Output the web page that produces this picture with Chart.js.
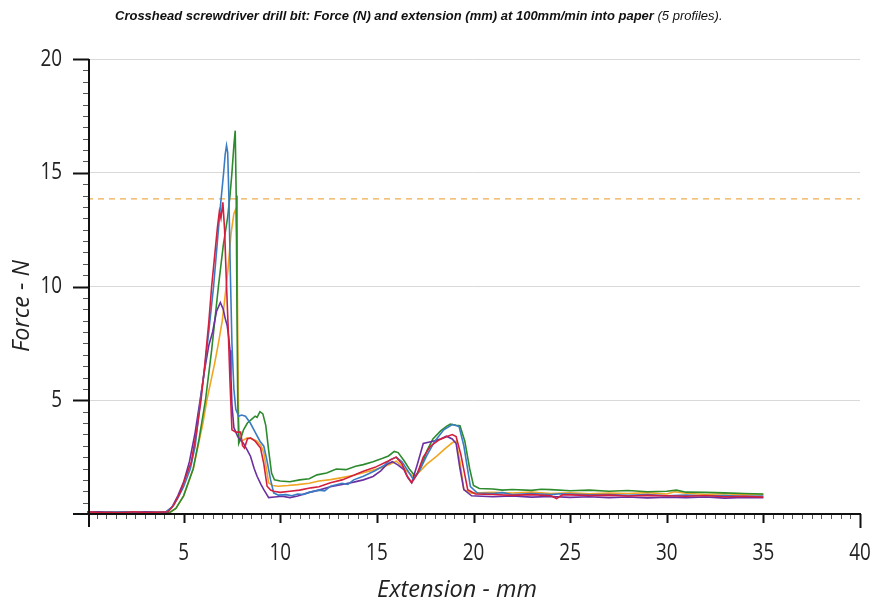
<!DOCTYPE html>
<html>
<head>
<meta charset="utf-8">
<script src="https://cdn.jsdelivr.net/npm/chart.js@4.4.1/dist/chart.umd.min.js"></script>
<style>
  html, body { margin: 0; padding: 0; background: #ffffff; }
  #wrap { width: 873px; height: 604px; }
</style>
</head>
<body>
<div id="wrap"><canvas id="chart" width="873" height="604"></canvas></div>
<script>
// Force (N) against extension (mm), one [extension, force] list per test profile
const profile1 = [[0,0.08],[0.6,0.05],[1.2,0.1],[1.8,0.06],[2.4,0.09],[3.0,0.05],[3.6,0.07],[4.1,0.1],[4.4,0.3],[4.7,0.7],[5.0,1.2],[5.35,2.0],[5.6,3.0],[5.87,5.0],[6.1,6.5],[6.3,8.0],[6.55,10.0],[6.75,12.0],[6.9,13.5],[7.07,15.0],[7.15,15.8],[7.22,16.2],[7.28,15.9],[7.34,14.0],[7.42,10.5],[7.5,7.5],[7.6,5.5],[7.7,4.6],[7.85,4.3],[8.0,4.35],[8.2,4.3],[8.45,4.0],[8.72,3.57],[8.95,3.2],[9.15,2.98],[9.3,2.4],[9.5,1.5],[9.66,0.93],[9.9,0.83],[10.3,0.85],[10.6,0.8],[10.9,0.88],[11.2,0.86],[11.5,0.95],[12.0,1.05],[12.3,1.02],[12.6,1.22],[13.2,1.35],[13.5,1.3],[13.8,1.5],[14.3,1.66],[14.9,1.9],[15.4,2.15],[15.7,2.39],[16.0,2.5],[16.3,2.3],[16.6,1.9],[16.9,1.5],[17.2,1.9],[17.6,2.6],[18.0,3.2],[18.46,3.7],[18.9,3.93],[19.25,3.85],[19.5,3.0],[19.84,1.2],[20.2,0.92],[21,0.9],[21.5,0.94],[22,0.86],[23,0.9],[24,0.85],[24.5,0.89],[25,0.88],[26,0.84],[27,0.86],[28,0.82],[29,0.85],[30,0.8],[31,0.83],[32,0.79],[33,0.81],[34,0.78],[35,0.79]];
const profile2 = [[0,0.06],[0.7,0.1],[1.3,0.05],[2.0,0.09],[2.6,0.06],[3.2,0.1],[3.8,0.05],[4.3,0.08],[4.6,0.25],[5.0,0.8],[5.5,2.0],[5.8,3.3],[6.13,5.0],[6.45,7.2],[6.8,10.0],[7.05,11.8],[7.27,13.0],[7.4,14.0],[7.5,15.0],[7.6,16.2],[7.67,16.85],[7.72,14.0],[7.76,9.0],[7.8,5.0],[7.85,3.1],[7.95,3.3],[8.1,3.7],[8.3,4.0],[8.5,4.15],[8.7,4.3],[8.8,4.25],[8.95,4.5],[9.1,4.4],[9.25,3.9],[9.4,2.8],[9.55,1.8],[9.7,1.5],[10.0,1.45],[10.5,1.42],[11.0,1.5],[11.5,1.55],[11.9,1.72],[12.4,1.8],[12.9,1.98],[13.4,1.95],[13.9,2.1],[14.3,2.17],[14.8,2.3],[15.3,2.45],[15.6,2.55],[15.9,2.75],[16.1,2.7],[16.4,2.35],[16.7,1.95],[17.0,1.65],[17.3,2.1],[17.6,2.8],[17.9,3.3],[18.3,3.65],[18.6,3.85],[18.8,3.95],[19.1,3.9],[19.3,3.88],[19.55,3.2],[19.8,2.0],[20.0,1.25],[20.3,1.12],[21,1.1],[21.5,1.05],[22,1.08],[23,1.04],[23.5,1.09],[24,1.07],[25,1.02],[26,1.05],[27,1.0],[28,1.03],[29,0.98],[30,1.0],[30.5,1.05],[31,0.96],[32,0.95],[33,0.93],[34,0.9],[35,0.88]];
const profile3 = [[0,0.1],[0.6,0.06],[1.2,0.08],[1.8,0.05],[2.4,0.1],[3.0,0.06],[3.6,0.08],[4.2,0.1],[4.5,0.4],[4.8,0.9],[5.1,1.6],[5.4,2.3],[5.7,3.8],[5.9,5.0],[6.1,6.6],[6.3,8.4],[6.45,10.0],[6.6,11.3],[6.75,12.6],[6.85,13.3],[6.93,13.0],[7.03,13.7],[7.12,12.5],[7.2,10.5],[7.3,8.3],[7.4,5.8],[7.5,3.7],[7.7,3.6],[7.95,3.6],[8.05,3.0],[8.15,2.9],[8.3,3.3],[8.46,3.35],[8.7,3.2],[8.98,2.9],[9.15,2.2],[9.32,1.22],[9.5,1.05],[9.66,1.0],[10.0,0.95],[10.5,1.0],[11.0,1.05],[11.6,1.15],[12.0,1.2],[12.6,1.37],[13.2,1.5],[13.8,1.7],[14.3,1.88],[14.9,2.05],[15.4,2.25],[16.0,2.5],[16.3,2.2],[16.55,1.7],[16.8,1.37],[17.1,1.8],[17.4,2.5],[17.77,2.98],[18.2,3.25],[18.6,3.4],[18.9,3.49],[19.1,3.4],[19.35,2.6],[19.7,1.07],[20.1,0.88],[21,0.86],[22,0.82],[23,0.85],[24,0.8],[24.3,0.68],[24.6,0.84],[25,0.84],[26,0.81],[27,0.83],[28,0.79],[29,0.82],[30,0.8],[31,0.78],[32,0.81],[33,0.76],[34,0.78],[35,0.74]];
const profile4 = [[0,0.05],[0.6,0.09],[1.2,0.05],[1.8,0.08],[2.4,0.05],[3.0,0.08],[3.6,0.05],[4.3,0.07],[4.6,0.25],[5.0,0.8],[5.5,2.0],[6.0,4.0],[6.2,5.0],[6.4,5.8],[6.6,6.6],[6.8,7.5],[7.0,8.5],[7.15,9.6],[7.3,10.8],[7.45,12.3],[7.6,13.2],[7.7,13.4],[7.76,12.0],[7.8,8.0],[7.84,4.5],[7.88,3.4],[8.0,3.2],[8.29,3.35],[8.55,3.3],[8.8,3.2],[9.0,3.0],[9.15,2.69],[9.3,1.9],[9.4,1.37],[9.6,1.25],[9.9,1.22],[10.4,1.25],[10.9,1.29],[11.5,1.35],[12.0,1.45],[12.6,1.51],[13.2,1.6],[13.8,1.7],[14.3,1.81],[14.9,1.95],[15.3,2.05],[15.7,2.2],[16.0,2.32],[16.3,2.1],[16.6,1.85],[16.9,1.66],[17.2,1.85],[17.6,2.2],[18.1,2.54],[18.5,2.85],[18.9,3.13],[19.1,3.2],[19.3,2.3],[19.5,1.07],[19.9,0.92],[21,0.95],[22,0.92],[23,0.96],[24,0.9],[25,0.93],[26,0.89],[27,0.92],[28,0.9],[29,0.94],[30,0.88],[30.4,0.98],[31,0.91],[32,0.86],[33,0.89],[34,0.85],[35,0.86]];
const profile5 = [[0,0.07],[0.6,0.1],[1.2,0.06],[1.8,0.09],[2.4,0.06],[3.0,0.1],[3.6,0.07],[4.1,0.09],[4.4,0.3],[4.7,0.8],[5.0,1.4],[5.3,2.3],[5.6,3.6],[5.85,5.0],[6.1,6.4],[6.3,7.4],[6.5,8.0],[6.7,8.9],[6.9,9.3],[7.05,9.0],[7.15,8.6],[7.25,8.3],[7.33,7.8],[7.4,7.2],[7.45,6.0],[7.5,4.8],[7.6,3.8],[7.8,3.4],[8.1,3.1],[8.3,2.8],[8.46,2.54],[8.65,2.0],[8.8,1.66],[9.0,1.3],[9.15,1.07],[9.4,0.72],[9.7,0.75],[10.1,0.78],[10.5,0.72],[10.9,0.79],[11.5,0.95],[12.0,1.05],[12.6,1.2],[13.2,1.3],[13.8,1.4],[14.3,1.5],[14.8,1.65],[15.2,1.9],[15.5,2.17],[15.8,2.3],[16.1,2.15],[16.4,1.95],[16.6,1.6],[16.8,1.37],[17.1,2.2],[17.4,3.1],[17.9,3.2],[18.3,3.3],[18.6,3.42],[18.9,3.3],[19.1,3.1],[19.3,2.0],[19.5,1.07],[19.9,0.8],[21,0.76],[22,0.79],[23,0.74],[24,0.77],[25,0.73],[26,0.76],[27,0.72],[28,0.75],[29,0.71],[30,0.74],[31,0.72],[32,0.75],[33,0.7],[34,0.73],[35,0.72]];

// Reference force level drawn as a dashed line
const thresholdForce = 13.85;

// Axis ticks
const xTickValues = [5, 10, 15, 20, 25, 30, 35, 40];
const yTickValues = [5, 10, 15, 20];

// Texts
const titleMain = 'Crosshead screwdriver drill bit: Force (N) and extension (mm) at 100mm/min into paper';
const titleTail = '(5 profiles).';
const xAxisTitle = 'Extension - mm';
const yAxisTitle = 'Force - N';

const profiles = [profile3, profile1, profile5, profile2, profile4];
const lineColors = ['#d3203f', '#3a7cc4', '#6b2fa0', '#2d8a2d', '#f0a622'];

// Narrow tick-label text: Open Sans squeezed horizontally
function drawNarrowText(ctx, text, x, y, align) {
  ctx.save();
  ctx.font = '23px "Open Sans", sans-serif';
  ctx.textAlign = align;
  ctx.textBaseline = 'middle';
  ctx.translate(x, y);
  ctx.scale(0.82, 1);
  ctx.fillText(text, 0, 0);
  ctx.restore();
}

// Draws the axis lines, major/minor tick marks, tick labels, title and axis titles
const axisDecor = {
  id: 'axisDecor',
  afterDatasetsDraw(chart) {
    const { ctx, scales: { x, y } } = chart;
    const ax = x.getPixelForValue(0) + 2;
    const by = y.getPixelForValue(0);
    const line = (x1, y1, x2, y2, w, c) => {
      ctx.beginPath();
      ctx.lineWidth = w; ctx.strokeStyle = c;
      ctx.moveTo(x1, y1); ctx.lineTo(x2, y2); ctx.stroke();
    };
    ctx.save();
    // y ticks, every 0.5 N
    for (let v = 0.5; v <= 20.001; v += 0.5) {
      const py = Math.round(y.getPixelForValue(v)) + 0.5;
      const major = Math.abs(v % 5) < 1e-6;
      if (major) line(ax - 16, py, ax, py, 2, '#111');
      else line(ax - 6, py, ax, py, 1, '#555');
    }
    // x ticks, every 0.5 mm
    for (let v = 0.5; v <= 40.001; v += 0.5) {
      const px = Math.round(x.getPixelForValue(v)) + 0.5;
      const major = Math.abs(v % 5) < 1e-6;
      if (major) line(px, by, px, by + (v >= 40 ? 14 : 9), 2, '#111');
      else line(px, by, px, by + 5, 1, '#555');
    }
    // axis lines
    line(ax, y.getPixelForValue(20), ax, by + 13, 2, '#111');
    line(ax - 16, by, x.getPixelForValue(40) + 1, by, 2, '#111');

    // tick labels
    ctx.fillStyle = '#222';
    yTickValues.forEach(v => drawNarrowText(ctx, String(v), 62, y.getPixelForValue(v), 'right'));
    xTickValues.forEach(v => drawNarrowText(ctx, String(v), x.getPixelForValue(v), 553, 'center'));

    // title
    ctx.fillStyle = '#111';
    ctx.textBaseline = 'alphabetic';
    ctx.textAlign = 'left';
    ctx.font = 'italic bold 13px "Liberation Sans", Arial, sans-serif';
    ctx.fillText(titleMain, 115, 20);
    const w = ctx.measureText(titleMain + ' ').width;
    ctx.font = 'italic 13px "Liberation Sans", Arial, sans-serif';
    ctx.fillText(titleTail, 115 + w, 20);

    // axis titles
    ctx.fillStyle = '#222';
    ctx.font = 'italic 23.5px "Open Sans", sans-serif';
    ctx.textAlign = 'center';
    ctx.textBaseline = 'middle';
    ctx.fillText(xAxisTitle, 457, 590);
    ctx.translate(22, 306);
    ctx.rotate(-Math.PI / 2);
    ctx.fillText(yAxisTitle, 0, 0);
    ctx.restore();
  }
};

const datasets = profiles.map((p, i) => ({
  data: p.map(([ex, f]) => ({ x: ex, y: f })),
  showLine: true,
  borderColor: lineColors[i],
  borderWidth: 1.6,
  pointRadius: 0,
  tension: 0,
  fill: false
}));
datasets.push({
  data: [{ x: 0, y: thresholdForce }, { x: 40, y: thresholdForce }],
  showLine: true,
  borderColor: '#eeac4e',
  borderWidth: 1.3,
  borderDash: [6, 5],
  pointRadius: 0,
  fill: false
});

new Chart(document.getElementById('chart'), {
  type: 'scatter',
  data: { datasets },
  options: {
    responsive: false,
    animation: false,
    devicePixelRatio: 1,
    layout: { padding: { top: 59, right: 13, left: 0, bottom: 0 } },
    plugins: { legend: { display: false }, tooltip: { enabled: false }, title: { display: false } },
    scales: {
      x: {
        type: 'linear', min: 0, max: 40,
        afterBuildTicks: s => { s.ticks = xTickValues.map(v => ({ value: v })); },
        afterFit: s => { s.height = 90; s.paddingLeft = 0; s.paddingRight = 0; },
        grid: { display: false },
        border: { display: false },
        ticks: { display: false }
      },
      y: {
        type: 'linear', min: 0, max: 20,
        afterBuildTicks: s => { s.ticks = yTickValues.map(v => ({ value: v })); },
        afterFit: s => { s.width = 87; s.paddingTop = 0; s.paddingBottom = 0; },
        grid: { color: '#d9d9d9', lineWidth: 1, drawTicks: false },
        border: { display: false },
        ticks: { display: false }
      }
    }
  },
  plugins: [axisDecor]
});
</script>
</body>
</html>
